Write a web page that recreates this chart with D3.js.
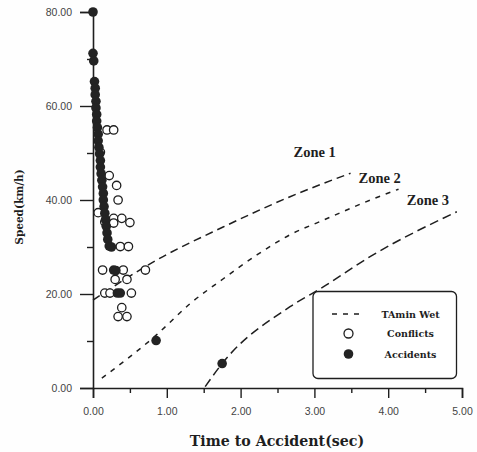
<!DOCTYPE html>
<html>
<head>
<meta charset="utf-8">
<script src="https://cdn.jsdelivr.net/npm/d3@7"></script>
<style>
  html, body { margin: 0; padding: 0; background: #fefefe; }
  svg { display: block; }
</style>
</head>
<body>
<div id="chart"></div>
<script>
// Speed vs. time-to-accident observations with TAmin (wet) zone boundaries
const xTicks = [0, 1, 2, 3, 4, 5];
const xMinorTicks = [0.5, 1.5, 2.5, 3.5, 4.5];
const yTicks = [0, 20, 40, 60, 80];
const yMinorTicks = [10, 30, 50, 70];

// Zone boundary curves: [time (sec), speed (km/h)]
const zone1 = [[0, 18.7], [0.86, 27.2], [1.77, 34.3], [2.67, 40.7], [3.49, 45.7]];
const zone2 = [[0.12, 2.1], [0.86, 11.3], [1.32, 18], [1.77, 23.3], [2.22, 28.3], [2.67, 32.6], [3.12, 35.7], [3.76, 40], [4.14, 42.3]];
const zone3 = [[1.52, 0.3], [1.75, 5.2], [2.67, 17.3], [3.12, 21.5], [3.76, 28], [4.93, 37.5]];
const zoneLabels = ["Zone 1", "Zone 2", "Zone 3"];

// Conflicts (open circles): [time, speed]
const conflicts = [
  [0.19, 54.9], [0.28, 54.9], [0.10, 50.2],
  [0.22, 45.2], [0.32, 43.1], [0.34, 40.0],
  [0.07, 37.3], [0.28, 36.1], [0.39, 36.1], [0.16, 35.3], [0.28, 35.1], [0.50, 35.2],
  [0.37, 30.1], [0.48, 30.1],
  [0.13, 25.1], [0.41, 25.1], [0.71, 25.1],
  [0.30, 23.1], [0.46, 23.1],
  [0.16, 20.2], [0.23, 20.2], [0.52, 20.2],
  [0.39, 17.1], [0.34, 15.2], [0.46, 15.2]
];

// Accidents (filled circles): [time, speed]
const accidents = [
  [0.00, 80], [0.00, 71.2], [0.01, 69.6],
  [0.02, 65.2], [0.03, 63.8], [0.03, 62.4], [0.04, 61.0], [0.04, 59.6], [0.05, 58.2],
  [0.05, 56.8], [0.06, 55.4], [0.07, 54.0], [0.07, 52.6], [0.08, 51.2], [0.09, 49.8],
  [0.10, 48.4], [0.10, 47.0], [0.11, 45.6], [0.12, 44.2], [0.13, 42.8], [0.14, 41.4],
  [0.14, 40.0], [0.15, 38.6], [0.16, 37.2], [0.17, 35.8], [0.18, 34.4], [0.19, 33.0],
  [0.20, 31.6], [0.22, 30.2], [0.25, 30.0],
  [0.28, 25.1], [0.31, 25.0],
  [0.33, 20.2], [0.37, 20.2],
  [0.855, 10.1], [1.75, 5.2]
];

const legendItems = ["TAmin Wet", "Conflicts", "Accidents"];

const W = 477, H = 452;
const ink = "#1e1e1e";
const heavySerif = "DejaVu Serif, Liberation Serif, serif";

const svg = d3.select("#chart").append("svg")
  .attr("width", W).attr("height", H);

const x = d3.scaleLinear().domain([0, 5]).range([93, 462]);
const y = d3.scaleLinear().domain([0, 80]).range([388, 12]);

// X axis
const xAxis = svg.append("g").attr("transform", `translate(0,${y(0)})`);
xAxis.call(d3.axisBottom(x).tickValues(xTicks).tickFormat(d3.format(".2f")).tickSize(10).tickPadding(10));
xAxis.append("g").call(d3.axisBottom(x).tickValues(xMinorTicks).tickFormat("").tickSize(5))
  .select(".domain").remove();

// Y axis
const yAxis = svg.append("g").attr("transform", `translate(${x(0)},0)`);
yAxis.call(d3.axisLeft(y).tickValues(yTicks).tickFormat(d3.format(".2f")).tickSize(13).tickPadding(8));
yAxis.append("g").call(d3.axisLeft(y).tickValues(yMinorTicks).tickFormat("").tickSize(6))
  .select(".domain").remove();

svg.selectAll(".domain").attr("stroke", ink).attr("stroke-width", 1.6);
svg.selectAll(".tick line").attr("stroke", ink).attr("stroke-width", 1.4);
svg.selectAll(".tick text")
  .attr("font-family", "Liberation Sans, Arial, sans-serif")
  .attr("font-size", 10.5)
  .attr("fill", "#444");

// Zone boundary lines
const line = d3.line().x(d => x(d[0])).y(d => y(d[1])).curve(d3.curveMonotoneX);
const zones = [
  { data: zone1, dash: "8,5" },
  { data: zone2, dash: "5,6" },
  { data: zone3, dash: "9,5" }
];
svg.selectAll("path.zone").data(zones).enter().append("path")
  .attr("class", "zone")
  .attr("d", d => line(d.data))
  .attr("fill", "none")
  .attr("stroke", ink)
  .attr("stroke-width", 1.5)
  .attr("stroke-dasharray", d => d.dash);

// Zone labels, placed near each curve's upper end
const labelOffsets = [[-57, -16], [-40, -6], [-50, -7]];
svg.selectAll("text.zlabel").data(zoneLabels).enter().append("text")
  .attr("class", "zlabel")
  .attr("x", (d, i) => x(zones[i].data[zones[i].data.length - 1][0]) + labelOffsets[i][0])
  .attr("y", (d, i) => y(zones[i].data[zones[i].data.length - 1][1]) + labelOffsets[i][1])
  .attr("font-family", "Liberation Serif, Times New Roman, serif")
  .attr("font-weight", "bold")
  .attr("font-size", 14.5)
  .attr("fill", ink)
  .text(d => d);

// Conflicts
svg.selectAll("circle.conflict").data(conflicts).enter().append("circle")
  .attr("class", "conflict")
  .attr("cx", d => x(d[0])).attr("cy", d => y(d[1]))
  .attr("r", 4.2)
  .attr("fill", "#fff")
  .attr("stroke", ink)
  .attr("stroke-width", 1.3);

// Accidents
svg.selectAll("circle.accident").data(accidents).enter().append("circle")
  .attr("class", "accident")
  .attr("cx", d => x(d[0])).attr("cy", d => y(d[1]))
  .attr("r", 4.8)
  .attr("fill", "#232323");

// Legend
const lg = svg.append("g");
lg.append("rect")
  .attr("x", 313).attr("y", 291.5).attr("width", 143.5).attr("height", 87)
  .attr("rx", 5).attr("ry", 5)
  .attr("fill", "#fff").attr("stroke", ink).attr("stroke-width", 1.3);
const rowY = [314, 333.5, 354];
lg.append("line")
  .attr("x1", 332).attr("x2", 364).attr("y1", rowY[0]).attr("y2", rowY[0])
  .attr("stroke", ink).attr("stroke-width", 1.4).attr("stroke-dasharray", "5,6");
lg.append("circle").attr("cx", 348.5).attr("cy", rowY[1]).attr("r", 4.5)
  .attr("fill", "#fff").attr("stroke", ink).attr("stroke-width", 1.3);
lg.append("circle").attr("cx", 348.5).attr("cy", rowY[2]).attr("r", 4.8)
  .attr("fill", "#232323");
lg.selectAll("text").data(legendItems).enter().append("text")
  .attr("x", 410.5).attr("y", (d, i) => rowY[i] + 3.5)
  .attr("text-anchor", "middle")
  .attr("font-family", heavySerif)
  .attr("font-weight", "bold")
  .attr("font-size", 9.5)
  .attr("fill", ink)
  .text(d => d);

// Axis titles
svg.append("text")
  .attr("x", 277).attr("y", 446)
  .attr("text-anchor", "middle")
  .attr("font-family", heavySerif)
  .attr("font-weight", "bold")
  .attr("font-size", 14.2)
  .attr("fill", ink)
  .text("Time to Accident(sec)");

svg.append("text")
  .attr("transform", `translate(23,207) rotate(-90)`)
  .attr("text-anchor", "middle")
  .attr("font-family", heavySerif)
  .attr("font-weight", "bold")
  .attr("font-size", 10.5)
  .attr("fill", ink)
  .text("Speed(km/h)");
</script>
</body>
</html>
